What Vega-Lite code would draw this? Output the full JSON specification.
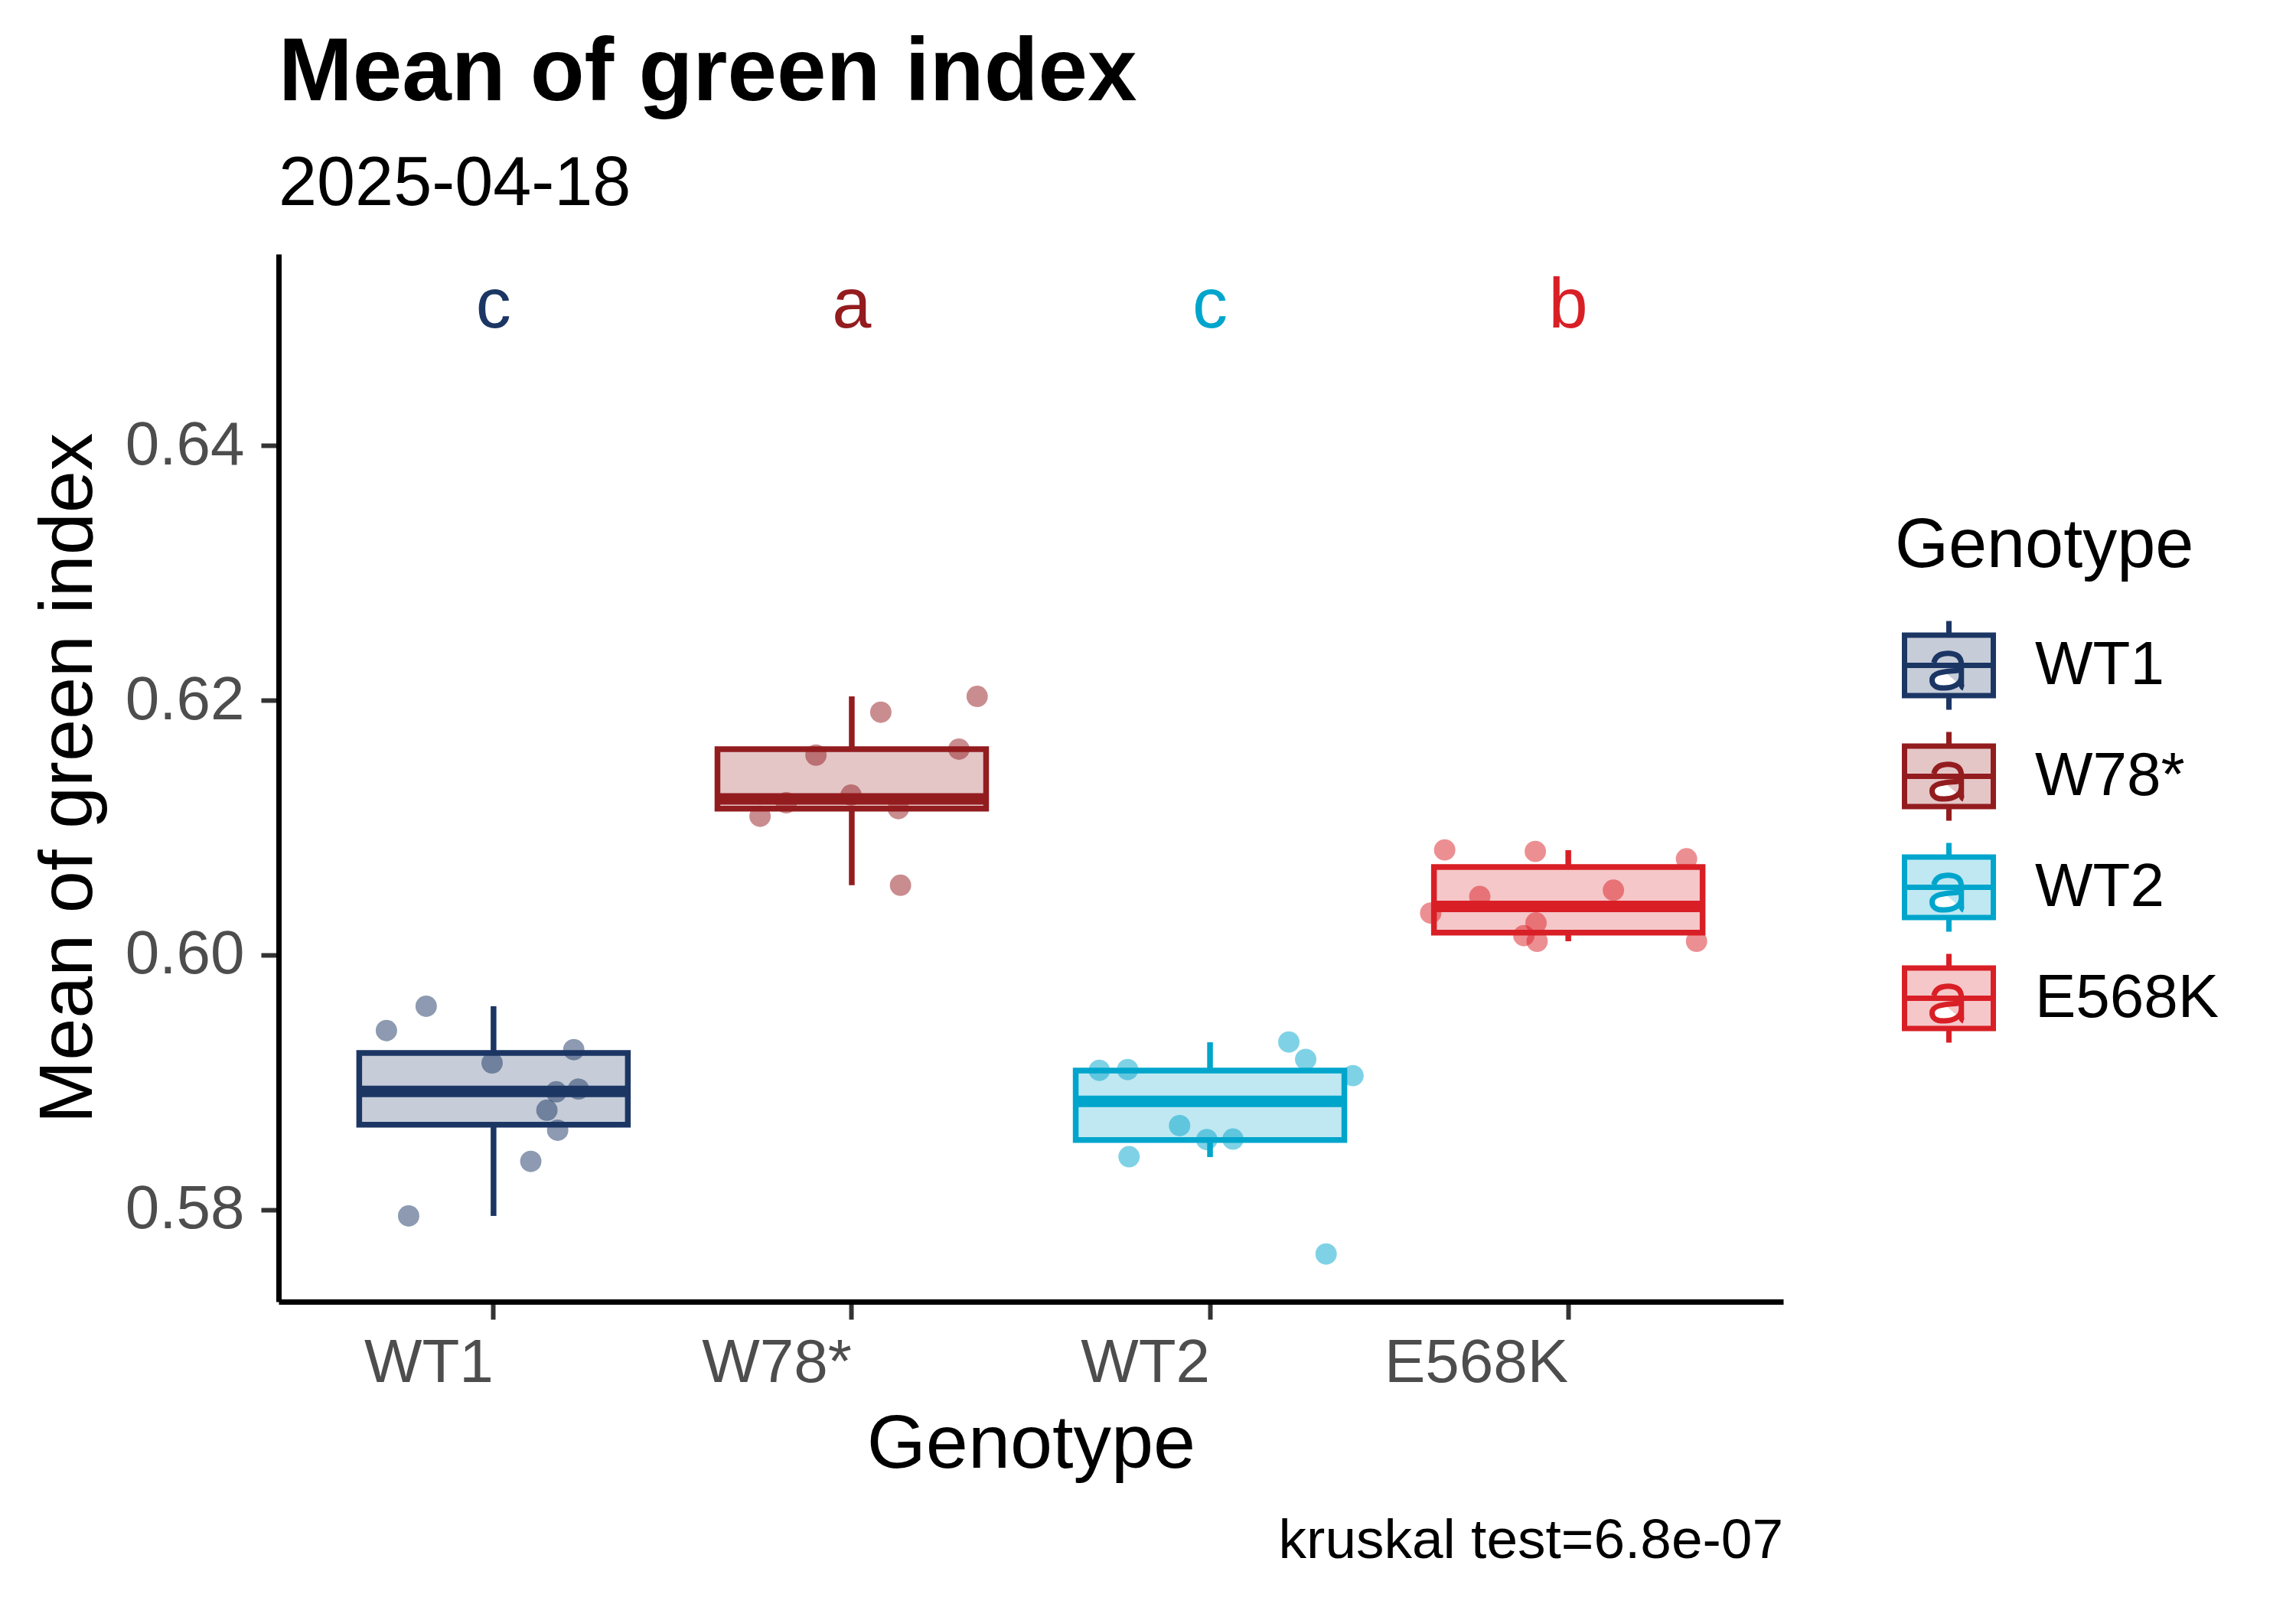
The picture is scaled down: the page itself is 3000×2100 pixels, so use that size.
{
  "$schema": "https://vega.github.io/schema/vega-lite/v6.json",
  "width": 1966,
  "height": 1369,
  "autosize": {"type": "none"},
  "padding": {"left": 364, "top": 332, "right": 670, "bottom": 399},
  "background": "white",
  "title": {
    "text": "Mean of green index",
    "subtitle": "2025-04-18",
    "anchor": "start",
    "frame": "group",
    "font": "Liberation Sans",
    "fontSize": 116,
    "fontWeight": "bold",
    "color": "black",
    "subtitleFont": "Liberation Sans",
    "subtitleFontSize": 90,
    "subtitleColor": "black",
    "subtitlePadding": 42,
    "offset": 45
  },
  "datasets": {
    "points": [
      {"Genotype": "WT1", "value": 0.59598, "jitter": -0.188},
      {"Genotype": "WT1", "value": 0.59407, "jitter": -0.299},
      {"Genotype": "WT1", "value": 0.59153, "jitter": -0.004},
      {"Genotype": "WT1", "value": 0.59257, "jitter": 0.224},
      {"Genotype": "WT1", "value": 0.58926, "jitter": 0.175},
      {"Genotype": "WT1", "value": 0.58948, "jitter": 0.237},
      {"Genotype": "WT1", "value": 0.58782, "jitter": 0.149},
      {"Genotype": "WT1", "value": 0.58625, "jitter": 0.179},
      {"Genotype": "WT1", "value": 0.5838, "jitter": 0.104},
      {"Genotype": "WT1", "value": 0.57952, "jitter": -0.237},
      {"Genotype": "W78*", "value": 0.6203, "jitter": 0.35},
      {"Genotype": "W78*", "value": 0.61906, "jitter": 0.081},
      {"Genotype": "W78*", "value": 0.61569, "jitter": -0.1},
      {"Genotype": "W78*", "value": 0.61616, "jitter": 0.299},
      {"Genotype": "W78*", "value": 0.61195, "jitter": -0.183},
      {"Genotype": "W78*", "value": 0.61255, "jitter": -0.002},
      {"Genotype": "W78*", "value": 0.61089, "jitter": -0.256},
      {"Genotype": "W78*", "value": 0.61149, "jitter": 0.13},
      {"Genotype": "W78*", "value": 0.60548, "jitter": 0.136},
      {"Genotype": "WT2", "value": 0.59095, "jitter": -0.309},
      {"Genotype": "WT2", "value": 0.59101, "jitter": -0.23},
      {"Genotype": "WT2", "value": 0.59317, "jitter": 0.22},
      {"Genotype": "WT2", "value": 0.59181, "jitter": 0.267},
      {"Genotype": "WT2", "value": 0.59053, "jitter": 0.399},
      {"Genotype": "WT2", "value": 0.58661, "jitter": -0.085},
      {"Genotype": "WT2", "value": 0.58551, "jitter": -0.009},
      {"Genotype": "WT2", "value": 0.58555, "jitter": 0.064},
      {"Genotype": "WT2", "value": 0.58417, "jitter": -0.226},
      {"Genotype": "WT2", "value": 0.57653, "jitter": 0.324},
      {"Genotype": "E568K", "value": 0.60825, "jitter": -0.345},
      {"Genotype": "E568K", "value": 0.60813, "jitter": -0.092},
      {"Genotype": "E568K", "value": 0.60755, "jitter": 0.33},
      {"Genotype": "E568K", "value": 0.60459, "jitter": -0.247},
      {"Genotype": "E568K", "value": 0.60509, "jitter": 0.126},
      {"Genotype": "E568K", "value": 0.60329, "jitter": -0.384},
      {"Genotype": "E568K", "value": 0.60252, "jitter": -0.09},
      {"Genotype": "E568K", "value": 0.60152, "jitter": -0.124},
      {"Genotype": "E568K", "value": 0.60108, "jitter": -0.087},
      {"Genotype": "E568K", "value": 0.60108, "jitter": 0.358}
    ],
    "boxes": [
      {"Genotype": "WT1", "lower": 0.57952, "q1": 0.58668, "median": 0.58929, "q3": 0.59231, "upper": 0.59598},
      {"Genotype": "W78*", "lower": 0.60548, "q1": 0.61148, "median": 0.61225, "q3": 0.61616, "upper": 0.6203},
      {"Genotype": "WT2", "lower": 0.58414, "q1": 0.58548, "median": 0.58851, "q3": 0.59093, "upper": 0.59315},
      {"Genotype": "E568K", "lower": 0.60108, "q1": 0.60176, "median": 0.60382, "q3": 0.60691, "upper": 0.60823}
    ],
    "letters": [
      {"Genotype": "WT1", "letter": "c", "label_y": 0.64925},
      {"Genotype": "W78*", "letter": "a", "label_y": 0.64925},
      {"Genotype": "WT2", "letter": "c", "label_y": 0.64925},
      {"Genotype": "E568K", "letter": "b", "label_y": 0.64925}
    ],
    "caption": [
      {"caption": "kruskal test=6.8e-07"}
    ]
  },
  "layer": [
    {
      "data": {"name": "points"},
      "mark": {"type": "circle", "size": 780, "opacity": 0.5},
      "encoding": {
        "x": {
          "field": "Genotype",
          "type": "nominal",
          "title": "Genotype",
          "sort": ["WT1", "W78*", "WT2", "E568K"],
          "scale": {"type": "band", "domain": ["WT1", "W78*", "WT2", "E568K"], "paddingInner": 0, "paddingOuter": 0.1}
        },
        "xOffset": {"field": "jitter", "type": "quantitative", "scale": {"domain": [-0.5, 0.5]}},
        "y": {
          "field": "value",
          "type": "quantitative",
          "title": "Mean of green index",
          "scale": {"domain": [0.57279, 0.65502], "nice": false, "zero": false},
          "axis": {"values": [0.58, 0.6, 0.62, 0.64], "format": ".2f"}
        },
        "fill": {
          "field": "Genotype",
          "type": "nominal",
          "scale": {"domain": ["E568K", "WT2", "W78*", "WT1"], "range": ["#D91F26", "#00A5CC", "#931C1F", "#1C3664"]},
          "legend": null
        }
      }
    },
    {
      "data": {"name": "boxes"},
      "mark": {"type": "rule", "strokeWidth": 7.5},
      "encoding": {
        "x": {"field": "Genotype", "type": "nominal", "title": "Genotype"},
        "y": {"field": "lower", "type": "quantitative", "title": "Mean of green index"},
        "y2": {"field": "q1"},
        "stroke": {
          "field": "Genotype",
          "type": "nominal",
          "scale": {"domain": ["E568K", "WT2", "W78*", "WT1"], "range": ["#D91F26", "#00A5CC", "#931C1F", "#1C3664"]},
          "legend": null
        }
      }
    },
    {
      "data": {"name": "boxes"},
      "mark": {"type": "rule", "strokeWidth": 7.5},
      "encoding": {
        "x": {"field": "Genotype", "type": "nominal", "title": "Genotype"},
        "y": {"field": "q3", "type": "quantitative", "title": "Mean of green index"},
        "y2": {"field": "upper"},
        "stroke": {"field": "Genotype", "type": "nominal", "legend": null}
      }
    },
    {
      "data": {"name": "boxes"},
      "mark": {"type": "bar", "width": 351, "fillOpacity": 0.25, "strokeWidth": 7.5},
      "encoding": {
        "x": {"field": "Genotype", "type": "nominal", "title": "Genotype"},
        "y": {"field": "q1", "type": "quantitative", "title": "Mean of green index"},
        "y2": {"field": "q3"},
        "color": {
          "field": "Genotype",
          "type": "nominal",
          "title": "Genotype",
          "scale": {"domain": ["WT1", "W78*", "WT2", "E568K"], "range": ["#1C3664", "#931C1F", "#00A5CC", "#D91F26"]},
          "legend": {
            "orient": "none",
            "legendX": 2112,
            "legendY": 338,
            "padding": 0,
            "symbolType": "M-1,-0.68H1V0.68H-1Z M-1,0H1 M0,-0.68V-1 M0,0.68V1 M-0.34,-0.06C-0.3,-0.24 -0.15,-0.27 -0.03,-0.27C0.2,-0.27 0.28,-0.17 0.28,-0.02V0.42C0.28,0.47 0.3,0.5 0.33,0.51 M0.28,0.1C0.1,0.15 -0.38,0.1 -0.38,0.33C-0.38,0.45 -0.28,0.51 -0.12,0.51C0.1,0.51 0.28,0.42 0.28,0.25",
            "symbolSize": 13456,
            "symbolStrokeWidth": 7,
            "symbolOffset": 9,
            "labelOffset": 51,
            "rowPadding": 0,
            "titlePadding": 48,
            "titleFont": "Liberation Sans",
            "titleFontSize": 90,
            "titleFontWeight": "normal",
            "titleColor": "black",
            "titleLimit": 1000,
            "labelFont": "Liberation Sans",
            "labelFontSize": 80,
            "labelColor": "black",
            "labelLimit": 1000,
            "encode": {
              "symbols": {
                "update": {
                  "fillOpacity": {"value": 0.25},
                  "opacity": {"value": 1},
                  "strokeOpacity": {"value": 1},
                  "stroke": {"scale": "color", "field": "value"},
                  "strokeWidth": {"value": 7}
                }
              }
            }
          }
        },
        "stroke": {"field": "Genotype", "type": "nominal", "legend": null}
      }
    },
    {
      "data": {"name": "boxes"},
      "mark": {"type": "tick", "thickness": 15, "size": 351, "opacity": 1},
      "encoding": {
        "x": {"field": "Genotype", "type": "nominal", "title": "Genotype"},
        "y": {"field": "median", "type": "quantitative", "title": "Mean of green index"},
        "fill": {"field": "Genotype", "type": "nominal", "legend": null}
      }
    },
    {
      "data": {"name": "letters"},
      "mark": {"type": "text", "fontSize": 92, "baseline": "alphabetic", "align": "center"},
      "encoding": {
        "x": {"field": "Genotype", "type": "nominal", "title": "Genotype"},
        "y": {"field": "label_y", "type": "quantitative", "title": "Mean of green index"},
        "text": {"field": "letter"},
        "fill": {"field": "Genotype", "type": "nominal", "legend": null}
      }
    },
    {
      "data": {"name": "caption"},
      "mark": {"type": "text", "fontSize": 73, "baseline": "alphabetic", "align": "right", "color": "black"},
      "encoding": {
        "x": {"datum": "E568K", "type": "nominal", "bandPosition": 1.1},
        "y": {"datum": 0.55267, "type": "quantitative"},
        "text": {"field": "caption"}
      }
    }
  ],
  "config": {
    "font": "Liberation Sans",
    "view": {"stroke": null},
    "axis": {
      "grid": false,
      "domainColor": "black",
      "domainWidth": 7,
      "tickColor": "#333333",
      "tickWidth": 6,
      "tickSize": 23,
      "labelFont": "Liberation Sans",
      "labelFontSize": 80,
      "labelColor": "#4D4D4D",
      "labelLimit": 1000,
      "titleFont": "Liberation Sans",
      "titleFontSize": 99,
      "titleFontWeight": "normal",
      "titleColor": "black"
    },
    "axisX": {"labelPadding": 18, "titlePadding": 18, "labelAngle": 0, "labelAlign": "right"},
    "axisY": {"labelPadding": 22, "titlePadding": 24}
  }
}
